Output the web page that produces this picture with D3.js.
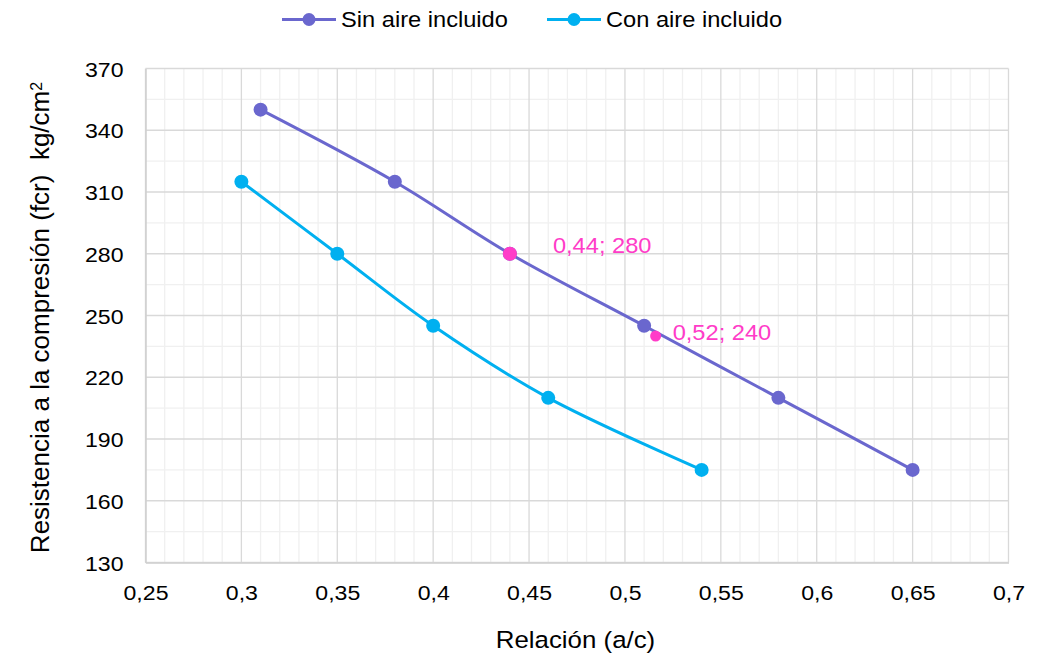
<!DOCTYPE html>
<html>
<head>
<meta charset="utf-8">
<script src="https://cdn.jsdelivr.net/npm/d3@7"></script>
<style>
  body { margin: 0; background: #ffffff; }
  text { font-family: "Liberation Sans", Arial, sans-serif; }
</style>
</head>
<body>
<svg id="chart" width="1043" height="654"></svg>
<script>
// ---- data ----
const xTickValues = [0.25, 0.3, 0.35, 0.4, 0.45, 0.5, 0.55, 0.6, 0.65, 0.7];
const yTickValues = [130, 160, 190, 220, 250, 280, 310, 340, 370];
const seriesNames = ["Sin aire incluido", "Con aire incluido"];
const sinAireX = [0.31, 0.38, 0.44, 0.51, 0.58, 0.65];
const sinAireY = [350, 315, 280, 245, 210, 175];
const conAireX = [0.30, 0.35, 0.40, 0.46, 0.54];
const conAireY = [315, 280, 245, 210, 175];
const highlightX = [0.44, 0.516];
const highlightY = [280, 240];
const xTitle = "Relación (a/c)";
const yTitleMain = "Resistencia a la compresión (fcr)\u00A0\u00A0kg/cm";
const yTitleSup = "2";

// ---- layout ----
const plot = { left: 145.5, right: 1008.5, top: 68.5, bottom: 562.5 };
const SX = 1.1;                 // horizontal text stretch
const colors = { sin: "#6A67CE", con: "#00B0F0", hi: "#FF3CC8" };

const svg = d3.select("#chart");
const x = d3.scaleLinear().domain([0.25, 0.7]).range([plot.left, plot.right]);
const y = d3.scaleLinear().domain([130, 370]).range([plot.bottom, plot.top]);
const fmtComma = v => String(v).replace(".", ",");

// ---- gridlines ----
const xMinor = d3.range(0, 46).map(i => +(0.25 + i * 0.01).toFixed(2))
  .filter(v => !xTickValues.some(t => Math.abs(t - v) < 1e-9));
const yMinor = d3.range(130, 371, 15).filter(v => !yTickValues.includes(v));

const grid = svg.append("g");
grid.selectAll(".xm").data(xMinor).join("line")
  .attr("x1", d => x(d)).attr("x2", d => x(d))
  .attr("y1", plot.top).attr("y2", plot.bottom)
  .attr("stroke", "#F0F0F0").attr("stroke-width", 1.3);
grid.selectAll(".ym").data(yMinor).join("line")
  .attr("x1", plot.left).attr("x2", plot.right)
  .attr("y1", d => y(d)).attr("y2", d => y(d))
  .attr("stroke", "#F0F0F0").attr("stroke-width", 1.3);
grid.selectAll(".xM").data(xTickValues).join("line")
  .attr("x1", d => x(d)).attr("x2", d => x(d))
  .attr("y1", plot.top).attr("y2", plot.bottom)
  .attr("stroke", "#D9D9D9").attr("stroke-width", 1.3);
grid.selectAll(".yM").data(yTickValues).join("line")
  .attr("x1", plot.left).attr("x2", plot.right)
  .attr("y1", d => y(d)).attr("y2", d => y(d))
  .attr("stroke", "#D9D9D9").attr("stroke-width", 1.3);

// ---- axes ----
const xAxis = svg.append("g")
  .attr("transform", `translate(0,${plot.bottom})`)
  .call(d3.axisBottom(x).tickValues(xTickValues).tickSize(0).tickPadding(0).tickFormat(fmtComma));
const yAxis = svg.append("g")
  .attr("transform", `translate(${plot.left},0)`)
  .call(d3.axisLeft(y).tickValues(yTickValues).tickSize(0).tickPadding(0).tickFormat(d3.format("d")));
[xAxis, yAxis].forEach(a => a.select(".domain").attr("stroke", "#CFCFCF").attr("stroke-width", 1.5));
xAxis.selectAll("text")
  .attr("x", null).attr("y", null).attr("dy", null)
  .attr("transform", `translate(0,37) scale(${SX},1)`)
  .style("font-size", "21px").style("fill", "#000");
yAxis.selectAll("text")
  .attr("x", null).attr("dy", null)
  .attr("transform", `translate(-22,7.5) scale(${SX},1)`)
  .style("font-size", "21px").style("fill", "#000");

// ---- series ----
const sinData = sinAireX.map((v, i) => [v, sinAireY[i]]);
const conData = conAireX.map((v, i) => [v, conAireY[i]]);
const line = d3.line().x(d => x(d[0])).y(d => y(d[1])).curve(d3.curveCatmullRom.alpha(0.5));

svg.append("path").datum(sinData).attr("d", line)
  .attr("fill", "none").attr("stroke", colors.sin).attr("stroke-width", 3);
svg.append("path").datum(conData).attr("d", line)
  .attr("fill", "none").attr("stroke", colors.con).attr("stroke-width", 3);

svg.append("g").selectAll("circle").data(sinData).join("circle")
  .attr("cx", d => x(d[0])).attr("cy", d => y(d[1])).attr("r", 7)
  .attr("fill", colors.sin);
svg.append("g").selectAll("circle").data(conData).join("circle")
  .attr("cx", d => x(d[0])).attr("cy", d => y(d[1])).attr("r", 7)
  .attr("fill", colors.con);

// highlighted readings with their labels
const hiData = highlightX.map((v, i) => [v, highlightY[i]]);
const hiRadius = [7, 5.5];
const hiLabelOffset = [[43, -1], [17, 4]];
svg.append("g").selectAll("circle").data(hiData).join("circle")
  .attr("cx", d => x(d[0])).attr("cy", d => y(d[1])).attr("r", (d, i) => hiRadius[i])
  .attr("fill", colors.hi);
svg.append("g").selectAll("text").data(hiData).join("text")
  .attr("transform", (d, i) =>
    `translate(${x(d[0]) + hiLabelOffset[i][0]},${y(d[1]) + hiLabelOffset[i][1]}) scale(${SX},1)`)
  .style("font-size", "21.5px").style("fill", colors.hi)
  .text(d => `${d[0].toFixed(2).replace(".", ",")}; ${d3.format(".0f")(d[1])}`);

// ---- axis titles ----
svg.append("text")
  .attr("transform", `translate(${(plot.left + plot.right) / 2 - 1.5},648) scale(${SX},1)`)
  .attr("text-anchor", "middle").style("font-size", "23.5px").style("fill", "#000")
  .text(xTitle);
const yT = svg.append("text")
  .attr("transform", `translate(49,${(plot.top + plot.bottom) / 2 + 2}) rotate(-90)`)
  .attr("text-anchor", "middle").style("font-size", "26px").style("fill", "#000");
yT.append("tspan").text(yTitleMain);
yT.append("tspan").attr("dy", "-0.45em").style("font-size", "16px").text(yTitleSup);

// ---- legend ----
const legendItems = [
  { name: seriesNames[0], color: colors.sin, x0: 282 },
  { name: seriesNames[1], color: colors.con, x0: 547 }
];
const lg = svg.append("g").selectAll("g").data(legendItems).join("g")
  .attr("transform", d => `translate(${d.x0},19.5)`);
lg.append("line").attr("x1", 0).attr("x2", 54).attr("y1", 0).attr("y2", 0)
  .attr("stroke", d => d.color).attr("stroke-width", 3);
lg.append("circle").attr("cx", 27).attr("cy", 0).attr("r", 6.5).attr("fill", d => d.color);
lg.append("text")
  .attr("transform", `translate(59,7.5) scale(${SX},1)`)
  .style("font-size", "21.5px").style("fill", "#000")
  .text(d => d.name);
</script>
</body>
</html>
